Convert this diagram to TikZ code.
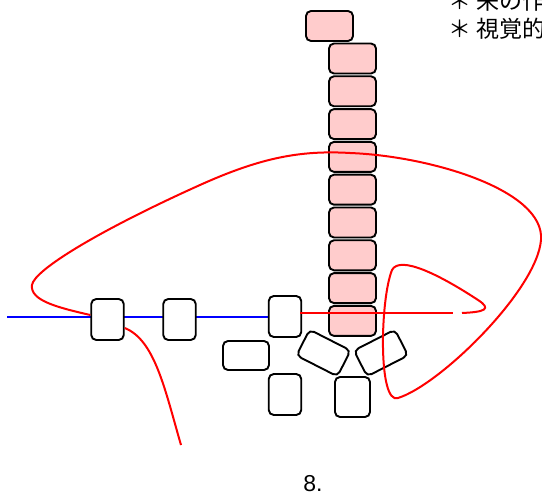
\documentclass[tikz,border=0pt]{standalone}
\usepackage{fontspec}
\setmainfont{Liberation Sans}
\newfontfamily\cjkfont{Noto Sans CJK JP}
\usetikzlibrary{backgrounds}
\definecolor{pinkc}{HTML}{FFCCCC}
\begin{document}
\begin{tikzpicture}[x=1pt,y=-1pt,
  bx/.style={draw=black, line width=1.9pt, rounded corners=5pt, fill=white, inner sep=0pt},
  pinkbx/.style={bx, fill=pinkc, minimum width=47pt, minimum height=30pt},
  tallbx/.style={bx, minimum width=32.5pt, minimum height=41pt},
  widebx/.style={bx, minimum width=46pt, minimum height=29pt},
  redl/.style={draw=red, line width=2pt},
  bluel/.style={draw=blue, line width=2pt},
  lbl/.style={inner sep=0pt, font=\fontsize{23}{27}\selectfont}]
\useasboundingbox (0,0) rectangle (542,495);

% pink stack
\node[pinkbx] (ptop) at (329.5,26) {};
\foreach \i in {0,...,8} {
  \node[pinkbx] (p\i) at (352.5,{58.5+32.8*\i}) {};
}

% white boxes
\node[tallbx] (A) at (107.5,319.5) {};
\node[tallbx] (B) at (179.5,319.5) {};
\node[tallbx] (C) at (285,316.5) {};
\node[widebx] (D) at (246,355.5) {};
\node[tallbx] (E) at (285,394.5) {};
\node[bx, minimum width=35pt, minimum height=40pt] (F) at (352.5,397) {};
\node[widebx, rotate=-27] (G) at (323.5,353) {};
\node[widebx, rotate=27] (H) at (381,353) {};

% blue line behind boxes
\coordinate (bstart) at (7,316.5);
\begin{pgfonlayer}{background}
  \draw[bluel] (bstart) -- (C.west);
\end{pgfonlayer}

% red curves
\coordinate (rend) at (462,313);
\coordinate (rgap) at (453,313);
\coordinate (rlow) at (181,445);
\draw[redl] ([yshift=4.5pt]A.west)
  .. controls (55,307) and (30,300) .. (32,285)
  .. controls (34,270) and (100,230) .. (200,185)
  .. controls (260,158) and (300,150) .. (350,153)
  .. controls (430,156) and (545,190) .. (541,240)
  .. controls (537,290) and (440,385) .. (398,398)
  .. controls (378,405) and (380,300) .. (392,270)
  .. controls (400,255) and (440,275) .. (478,300)
  .. controls (492,309) and (485,312) .. (rend);
\draw[redl] ([yshift=-8.5pt]A.east) .. controls (155,340) and (165,390) .. (rlow);
\draw[redl] ([xshift=-2pt,yshift=3.5pt]C.east) -- (rgap);

% texts
\node[lbl, anchor=base west] (t1) at (448,10) {\cjkfont ＊ 来の作};
\node[lbl, anchor=base west] (t2) at (448,38) {\cjkfont ＊ 視覚的};
\node[lbl, anchor=base, font=\fontsize{23}{27}\selectfont] (n8) at (313,491) {8.};
\end{tikzpicture}
\end{document}
